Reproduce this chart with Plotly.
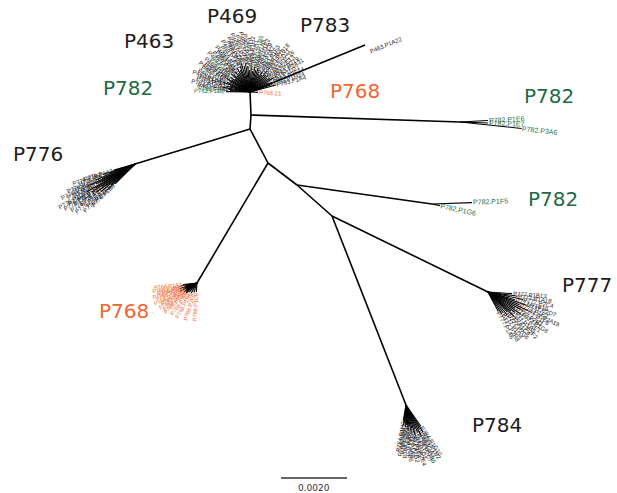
import math
import plotly.graph_objects as go

# ---------------- tree skeleton (layout space = chart units) ----------------
node_names = ["N0", "N1", "N2", "N3", "N4", "N5", "E782", "H776", "H768", "F782", "H777", "H784", "A22"]
node_x = [250, 251, 250, 268, 297, 332, 460, 135, 197, 432, 488, 406, 365]
node_y = [92, 115, 129, 163, 185, 216, 122, 164, 283, 204, 292, 405, 45]
edge_from = ["N0", "N1", "N2", "N3", "N4", "N1", "N2", "N3", "N4", "N5", "N5", "N0"]
edge_to = ["N1", "N2", "N3", "N4", "N5", "E782", "H776", "H768", "F782", "H777", "H784", "A22"]

# ---------------- tip clusters: hub node, tip angle (deg), branch length, label ----------------
top_angles = [179, 176, 173, 170, 166, 163, 160, 157, 153, 150, 147, 143, 140, 136, 133, 129, 126, 122,
              118, 114, 111, 107, 103, 99, 95, 91, 87, 83, 79, 75, 71, 67, 63, 59, 55, 51, 47, 43, 39,
              35, 31, 27, 23, 19, 15, -3]
top_lengths = [24, 20, 22, 28, 24, 21, 29, 25, 23, 27, 22, 24, 20, 26, 23, 21, 25, 22, 27, 24, 28, 30,
               27, 29, 26, 22, 24, 21, 26, 23, 25, 22, 20, 24, 21, 27, 23, 25, 22, 24, 28, 21, 25, 23, 27, 8]
top_labels = ["P782.P1D2", "P782.P2A4", "P463.P1B6", "P783.P1C3", "P463.P2A1", "P783.P1A9", "P463.P1D4",
              "P463.P1B2", "P469.P1C7", "P463.P2D5", "P469.P2B1", "P469.P1E3", "P782.P1C1", "P469.P1A8",
              "P469.P2C6", "P469.P1B4", "P469.P2E2", "P469.P1D9", "P469.P1F1", "P469.P2A7", "P469.P1C3",
              "P469.P2D8", "P469.P1E5", "P469.P2F2", "P469.P1G4", "P469.P2G6", "P469.P1H2", "P783.P2H1",
              "P782.P1B5", "P469.P1A5", "P783.P1E2", "P783.P2C9", "P783.P1A7", "P783.P1F3", "P783.P2B8",
              "P783.P1B18", "P783.P2D11", "P783.P1C16", "P783.P2E13", "P783.P1G19", "P783.P2A31",
              "P783.P1D21", "P783.P2F14", "P783.P1H24", "P783.P1A4", "P768.21"]
top_colors = ["g", "g", "k", "k", "k", "k", "k", "k", "k", "k", "k", "k", "g", "k", "k", "k", "k", "k",
              "k", "k", "k", "k", "k", "k", "k", "k", "k", "k", "g", "k", "k", "k", "k", "k", "k", "k",
              "k", "k", "k", "k", "k", "k", "k", "k", "k", "o"]

p776_angles = [196, 198, 200, 202, 204, 205, 207, 208, 210, 211, 213, 214, 216, 217, 219, 221, 223, 225]
p776_lengths = [22, 34, 28, 42, 36, 50, 44, 38, 56, 46, 52, 40, 48, 36, 44, 32, 38, 28]
p776_labels = ["P776.P1A3", "P776.P1B2", "P776.P2C4", "P776.P1D1", "P776.P2A6", "P776.P1E5", "P776.P2B7",
               "P776.P1C8", "P776.P2D2", "P776.P1F3", "P776.P2E9", "P776.P1G1", "P776.P2F4", "P776.P1H6",
               "P776.P2G5", "P776.P1A9", "P776.P2H3", "P776.P1B8"]

p768_angles = [186, 190, 194, 198, 202, 206, 210, 214, 218, 223, 230, 240, 252, 266]
p768_lengths = [14, 17, 12, 18, 15, 19, 13, 16, 14, 15, 12, 12, 10, 9]
p768_labels = ["P768.P1A2", "P768.P1B4", "P768.P2C1", "P768.P1D3", "P768.P2A5", "P768.P1E7", "P768.P2B6",
               "P768.P1F2", "P768.P2D8", "P768.P1G5", "P768.P2E3", "P768.P1H1", "P768.P2F9", "P768.P1C6"]

p777_angles = [-4, -8, -12, -16, -19, -22, -25, -28, -31, -34, -37, -40, -43, -46, -50, -54, -58, -62]
p777_lengths = [24, 30, 36, 28, 40, 34, 44, 38, 32, 40, 34, 30, 36, 28, 30, 26, 26, 22]
p777_labels = ["P777.P1B13", "P777.P1A18", "P777.P2C4", "P777.P1B19", "P777.P2D7", "P777.P1E2",
               "P777.P2A19", "P777.P1F6", "P777.P2B3", "P777.P1G8", "P777.P2E1", "P777.P1H5", "P777.P2F2",
               "P777.P1C9", "P777.P2G6", "P777.P1D4", "P777.P2H8", "P777.P1A6"]

p784_angles = [-55, -58, -61, -64, -67, -70, -73, -76, -79, -82, -85, -88, -91, -94, -97, -100]
p784_lengths = [26, 32, 28, 34, 30, 26, 32, 24, 28, 22, 26, 20, 22, 18, 20, 16]
p784_labels = ["P784.P1G10", "P784.P1H2", "P784.P2A3", "P784.P1B5", "P784.P2C7", "P784.P1D1", "P784.P2E4",
               "P784.P1F8", "P784.P2G2", "P784.P1A9", "P784.P2B6", "P784.P1C3", "P784.P2D5", "P784.P1E7",
               "P784.P2F1", "P784.P1H0"]

e782_tips = ["P782.P1E6", "P782.P1E7", "P782.P3A6"]
e782_angles = [3, -2, -6]
e782_lengths = [28, 28, 62]

f782_tips = ["P782.P1F5", "P782.P1G6"]
f782_angles = [2, -12]
f782_lengths = [40, 8]

a22_label = "P463.P1A22"

# ---------------- clade labels ----------------
clade_text = ["P469", "P783", "P463", "P782", "P768", "P782", "P776", "P782", "P777", "P768", "P784"]
clade_x = [232, 325, 149, 128, 355, 549, 38, 553, 587, 124, 497]
clade_y = [16, 25, 41, 88, 91, 96, 154, 199, 285, 311, 425]
clade_col = ["k", "k", "k", "g", "o", "g", "k", "g", "k", "o", "k"]

scale_label = "0.0020"
scale_x = [281, 347]
scale_y = 478

COL = {"k": "#1e1b1c", "g": "#1d6b42", "o": "#f26430"}
FONT = "Liberation Sans, Arial, sans-serif"
CLADE_FONT = "DejaVu Sans, sans-serif"
TIP_FS = 6
W, H = 617, 493

pos = {n: (x, y) for n, x, y in zip(node_names, node_x, node_y)}

fig = go.Figure()

# skeleton edges
ex, ey = [], []
for a, b in zip(edge_from, edge_to):
    ex += [pos[a][0], pos[b][0], None]
    ey += [pos[a][1], pos[b][1], None]
fig.add_trace(go.Scatter(x=ex, y=ey, mode="lines", line=dict(color="black", width=1.6),
                         hoverinfo="skip", showlegend=False))

annotations = []


def add_cluster(hub, angles, lengths, labels, colors, fs=TIP_FS):
    hx, hy = pos[hub]
    lx, ly = [], []
    for ang, L, lab, c in zip(angles, lengths, labels, colors):
        dx, dy = math.cos(math.radians(ang)), -math.sin(math.radians(ang))
        tx, ty = hx + L * dx, hy + L * dy
        lx += [hx, tx, None]
        ly += [hy, ty, None]
        w = 0.56 * fs * len(lab)
        off = w / 2 + 1.0
        cx, cy = tx + dx * off, ty + dy * off
        if dx >= -1e-9:
            ta = -ang
        else:
            ta = 180 - ang
        annotations.append(dict(x=cx, y=cy, xref="x", yref="y", text=lab, showarrow=False,
                                textangle=ta, xanchor="center", yanchor="middle",
                                font=dict(size=fs, color=COL[c], family=FONT)))
    fig.add_trace(go.Scatter(x=lx, y=ly, mode="lines", line=dict(color="black", width=1.1),
                             hoverinfo="skip", showlegend=False))


add_cluster("N0", top_angles, top_lengths, top_labels, top_colors)
add_cluster("H776", p776_angles, p776_lengths, p776_labels, ["k"] * len(p776_labels))
add_cluster("H768", p768_angles, p768_lengths, p768_labels, ["o"] * len(p768_labels), fs=5.5)
add_cluster("H777", p777_angles, p777_lengths, p777_labels, ["k"] * len(p777_labels))
add_cluster("H784", p784_angles, p784_lengths, p784_labels, ["k"] * len(p784_labels))
add_cluster("E782", e782_angles, e782_lengths, e782_tips, ["g"] * 3, fs=7)
add_cluster("F782", f782_angles, f782_lengths, f782_tips, ["g"] * 2, fs=7)

# long single tip label
ax_, ay_ = pos["A22"]
annotations.append(dict(x=ax_ + 2, y=ay_, xref="x", yref="y", text=a22_label, showarrow=False,
                        textangle=-22, xanchor="left", yanchor="middle",
                        font=dict(size=TIP_FS, color=COL["k"], family=FONT)))

for t, x, y, c in zip(clade_text, clade_x, clade_y, clade_col):
    annotations.append(dict(x=x, y=y, xref="x", yref="y", text=t, showarrow=False,
                            xanchor="center", yanchor="middle",
                            font=dict(size=20, color=COL[c], family=CLADE_FONT)))

# scale bar
fig.add_trace(go.Scatter(x=scale_x, y=[scale_y, scale_y], mode="lines",
                         line=dict(color="#333333", width=1.6), hoverinfo="skip", showlegend=False))
annotations.append(dict(x=sum(scale_x) / 2, y=scale_y + 10, xref="x", yref="y", text=scale_label,
                        showarrow=False, xanchor="center", yanchor="middle",
                        font=dict(size=9, color="#333333", family="DejaVu Sans, sans-serif")))

fig.update_layout(
    width=W, height=H, margin=dict(l=0, r=0, t=0, b=0),
    paper_bgcolor="white", plot_bgcolor="white",
    xaxis=dict(range=[0, W], visible=False, fixedrange=True),
    yaxis=dict(range=[H, 0], visible=False, fixedrange=True),
    annotations=annotations, showlegend=False, hovermode=False,
)
fig.write_html("out.html", config={"displayModeBar": False, "staticPlot": True},
               post_script="document.body.style.margin='0';document.body.style.overflow='hidden';")
